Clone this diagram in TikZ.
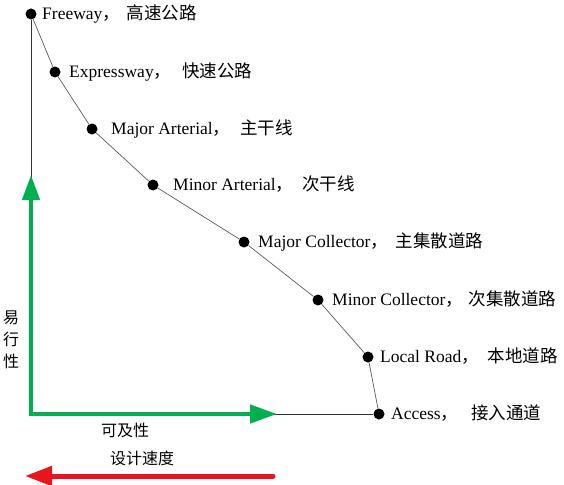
\documentclass[tikz,border=0pt]{standalone}
\usepackage{fontspec}
\setmainfont{Liberation Serif}
\newfontfamily\cjk{Noto Sans CJK SC}
\usetikzlibrary{arrows.meta}
\definecolor{axisgreen}{RGB}{0,176,80}
\definecolor{speedred}{RGB}{232,22,28}
\begin{document}
\begin{tikzpicture}[x=1pt,y=-1pt,
      dot/.style={circle,fill=black,inner sep=0pt,minimum size=11pt},
      lbl/.style={anchor=base west,inner sep=0pt,font=\fontsize{17.5}{20}\selectfont},
      zh/.style={inner sep=0pt,font=\cjk\fontsize{16}{22}\selectfont}]
   \useasboundingbox (0,0) rectangle (564,484);
   % road classes
   \node[dot] (fw) at (31,14) {};
   \node[dot] (ew) at (55,72) {};
   \node[dot] (maa) at (92,129) {};
   \node[dot] (mia) at (153,185) {};
   \node[dot] (mac) at (244,242) {};
   \node[dot] (mic) at (318,300) {};
   \node[dot] (lr) at (368,357) {};
   \node[dot] (ac) at (379,414) {};
   \node[lbl] (fwl) at (42,19.5) {Freeway{\cjk ，}\hspace{7pt}{\cjk 高速公路}};
   \node[lbl] (ewl) at (69,77.5) {Expressway{\cjk ，}\hspace{11pt}{\cjk 快速公路}};
   \node[lbl] (maal) at (111,134.5) {Major Arterial{\cjk ，}\hspace{10pt}{\cjk 主干线}};
   \node[lbl] (mial) at (173,190.5) {Minor Arterial{\cjk ，}\hspace{9pt}{\cjk 次干线}};
   \node[lbl] (macl) at (258,247.5) {Major Collector{\cjk ，}\hspace{8pt}{\cjk 主集散道路}};
   \node[lbl] (micl) at (332,305.5) {Minor Collector{\cjk ，}\hspace{6pt}{\cjk 次集散道路}};
   \node[lbl] (lrl) at (380,362.5) {Local Road{\cjk ，}\hspace{9pt}{\cjk 本地道路}};
   \node[lbl] (acl) at (391,419.5) {Access{\cjk ，}\hspace{13pt}{\cjk 接入通道}};
   \draw[black!65,line width=0.7pt] (fw) -- (ew) -- (maa) -- (mia) -- (mac) -- (mic) -- (lr) -- (ac);
   % axes
   \coordinate (o) at (31,414);
   \coordinate (up) at (31,175);
   \coordinate (rt) at (277,414);
   \draw[black!80,line width=0.8pt] (fw) -- (o) -- (ac);
   \draw[axisgreen,line width=4.5pt,{Triangle[length=25pt,width=17pt]}-{Triangle[length=27pt,width=18pt]}] (up) -- (o) -- (rt);
   \coordinate (rs) at (273,476);
   \coordinate (re) at (25,476);
   \draw[speedred,line width=5pt,line cap=round,-{Triangle[length=27pt,width=19pt]}] (rs) -- (re);
   % axis texts
   \node[zh,align=center] (ease) at (11,340) {易\\行\\性};
   \node[zh] (access) at (125,430) {可及性};
   \node[zh] (speed) at (142,458) {设计速度};
\end{tikzpicture}
\end{document}
